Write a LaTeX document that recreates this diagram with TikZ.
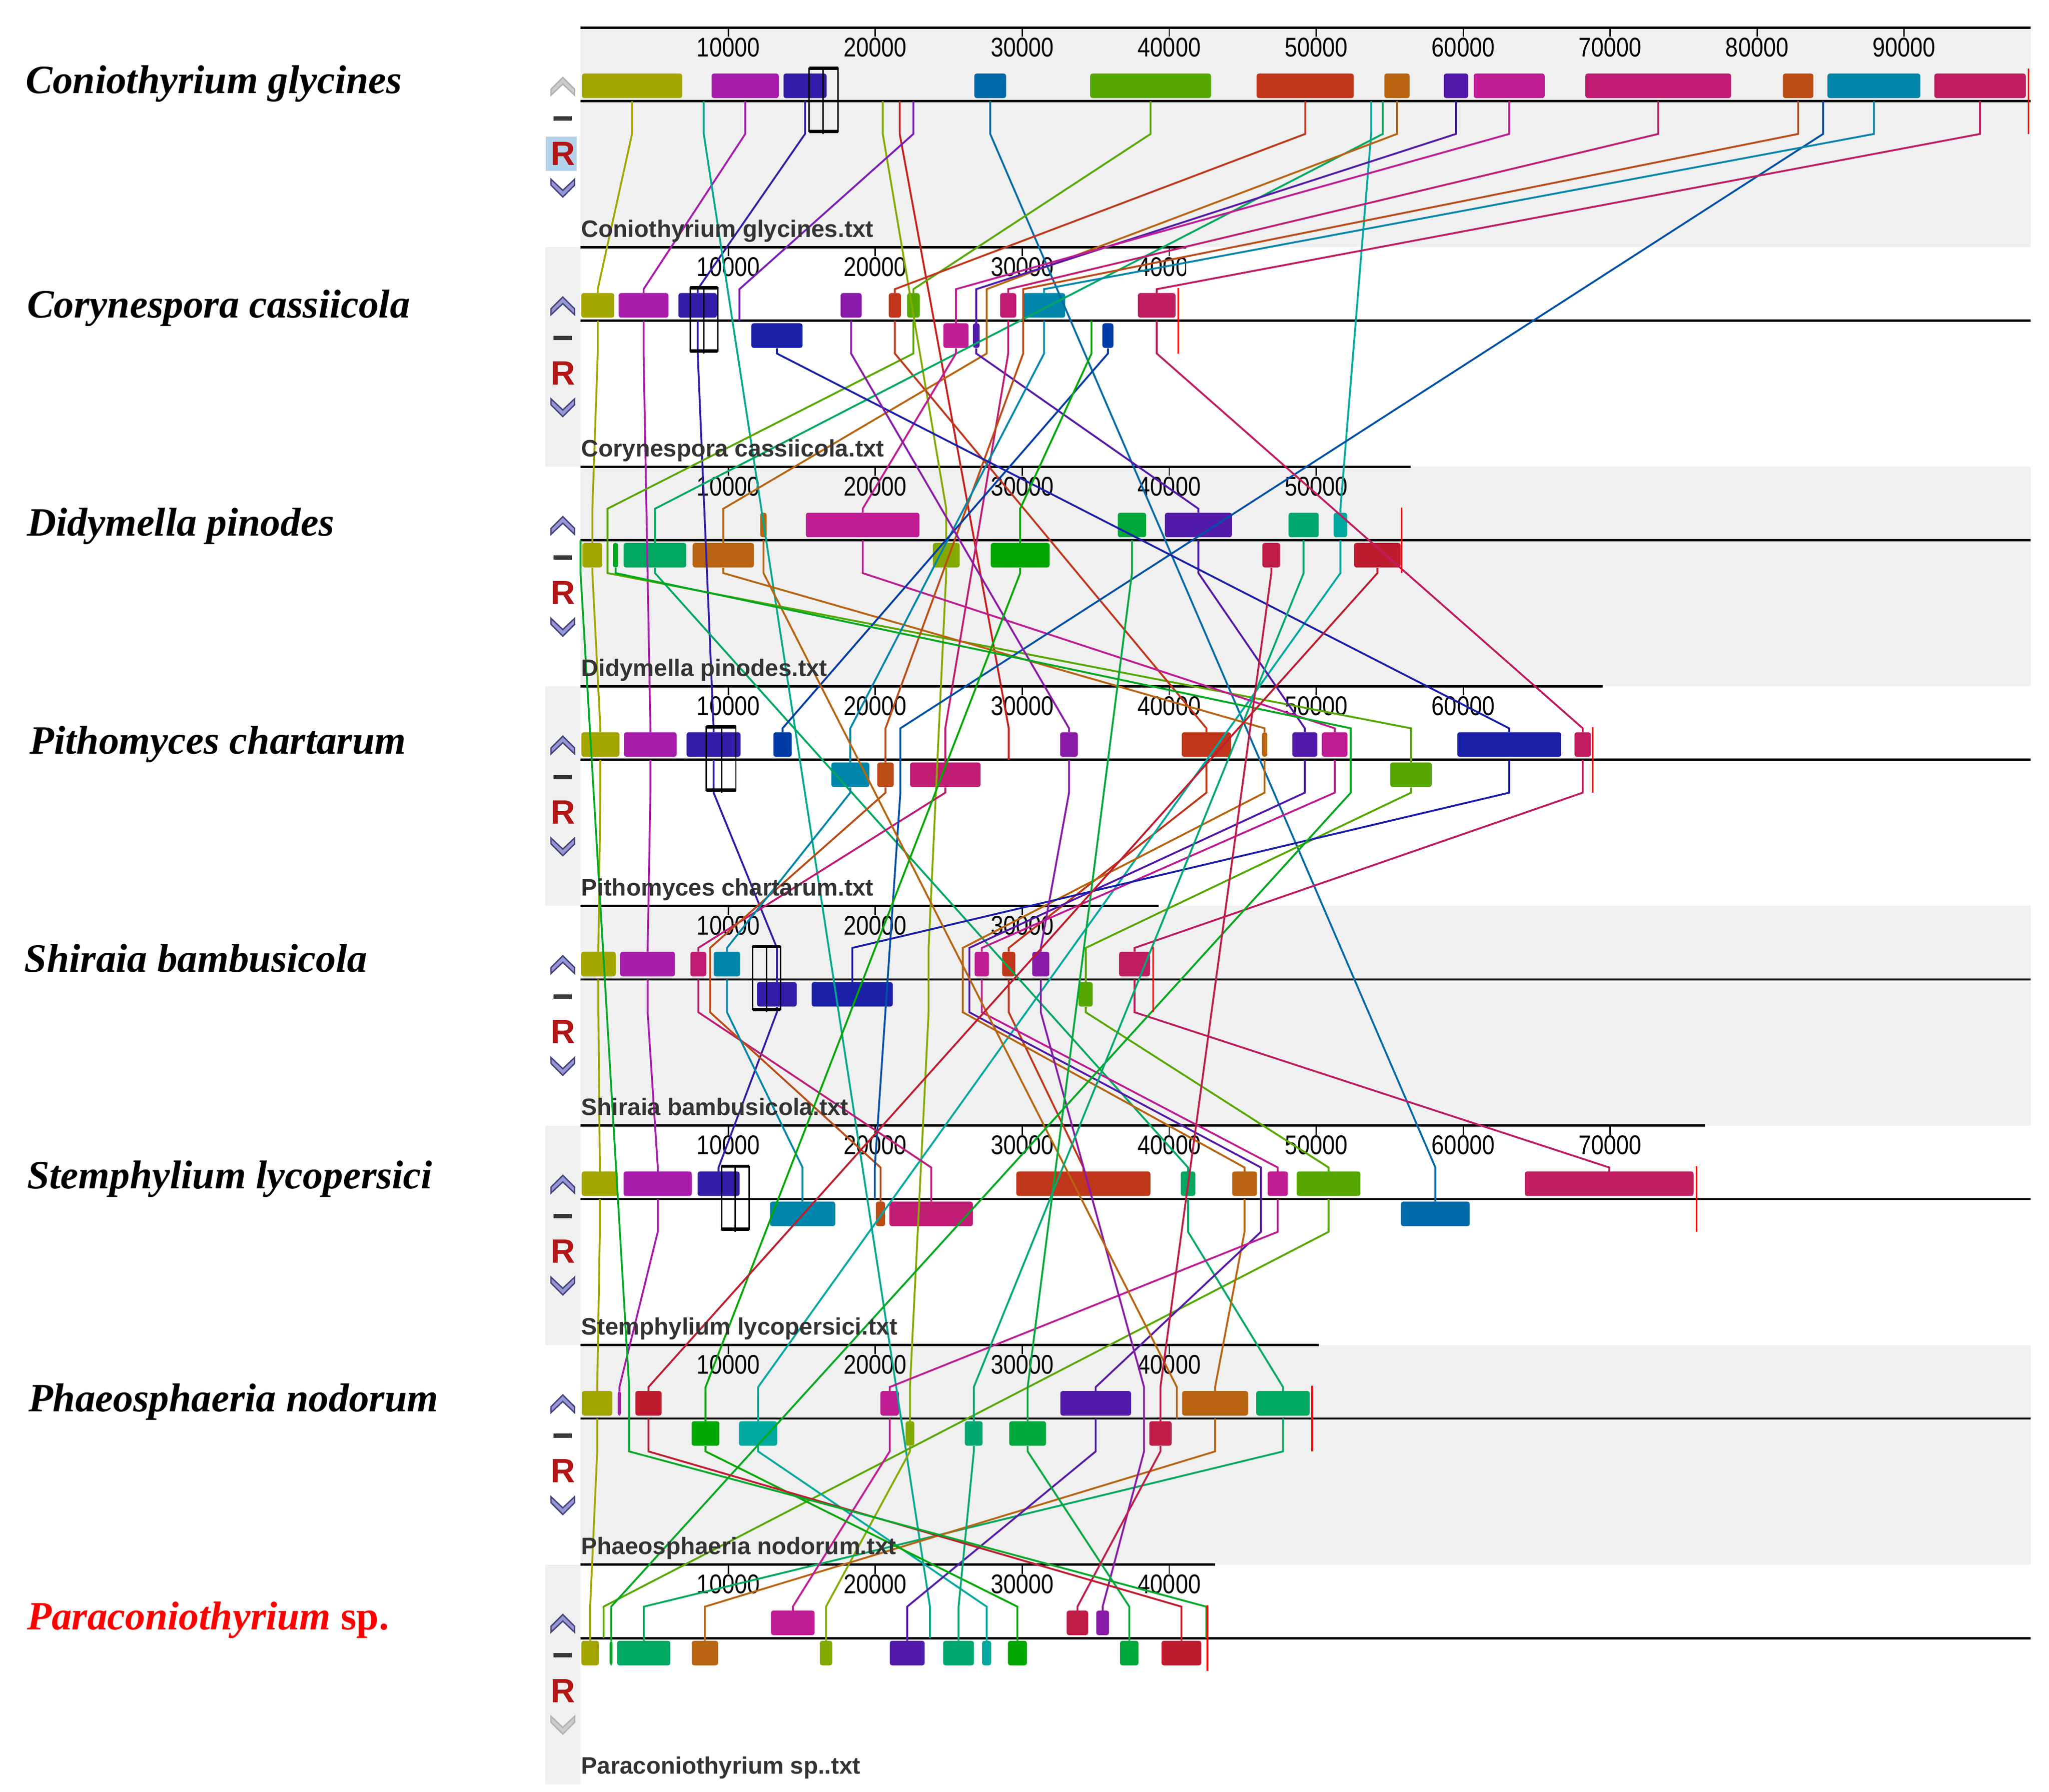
\documentclass[tikz,border=0pt]{standalone}
\usepackage{fontspec}
\setmainfont{Liberation Serif}
\newfontfamily\mauvefont{Liberation Sans}
\newfontfamily\tickfont[FakeStretch=0.84]{Liberation Sans}
\usepackage{tikz}
\usetikzlibrary{positioning}

% panel colours
\definecolor{bgGray}{RGB}{240,240,240}
\definecolor{fileGray}{RGB}{51,51,51}
\definecolor{chevFill}{RGB}{150,150,212}
\definecolor{chevEdge}{RGB}{70,70,125}
\definecolor{rRed}{RGB}{178,22,22}
\definecolor{rHigh}{RGB}{180,210,234}
% LCB colours
\definecolor{cOlive}{RGB}{164,166,0}
\definecolor{cPurple}{RGB}{168,28,172}
\definecolor{cIndigo}{RGB}{52,28,168}
\definecolor{cBlue}{RGB}{0,106,168}
\definecolor{cGreen}{RGB}{86,168,0}
\definecolor{cRed}{RGB}{192,54,26}
\definecolor{cOrange}{RGB}{184,100,16}
\definecolor{cViolet}{RGB}{82,26,170}
\definecolor{cMagenta}{RGB}{192,28,148}
\definecolor{cPink}{RGB}{192,28,116}
\definecolor{cBrown}{RGB}{188,76,22}
\definecolor{cTeal}{RGB}{0,134,170}
\definecolor{cCrimson}{RGB}{192,28,96}
\definecolor{cNavy}{RGB}{26,32,168}
\definecolor{cRoyal}{RGB}{0,60,168}
\definecolor{cLilac}{RGB}{138,26,168}
\definecolor{cSky}{RGB}{0,80,168}
\definecolor{cAqua}{RGB}{0,168,144}
\definecolor{cLime}{RGB}{132,170,0}
\definecolor{cScarlet}{RGB}{200,30,30}
\definecolor{cGrape}{RGB}{122,28,184}
\definecolor{cCyan}{RGB}{0,168,160}
\definecolor{cLeaf}{RGB}{0,168,32}
\definecolor{cJade}{RGB}{0,168,96}
\definecolor{cEmerald}{RGB}{0,168,60}
\definecolor{cKelly}{RGB}{0,168,0}
\definecolor{cMint}{RGB}{0,168,112}
\definecolor{cRose}{RGB}{192,28,72}
\definecolor{cRuby}{RGB}{192,28,48}
\definecolor{cFern}{RGB}{0,170,40}

% where a connector meets a block: u = forward, d = reverse, t = too small to draw
\def\lcbinu{35}\def\lcbind{58}\def\lcbint{56}
\def\lcboutu{56}\def\lcboutd{77}\def\lcboutt{56}

% blocks of one genome: x1/x2/top/colour
\newcommand{\blocks}[2]{%
  \pgfmathsetmacro\yo{21+167.2*(#1-1)}
  \foreach \xa/\xb/\bt/\col in {#2}
    \fill[blockbox, \col] (\xa,\yo+\bt) rectangle (\xb,\yo+\bt+18.7);
}

% one LCB through the genomes: genome/x/kind
\newcommand{\lcb}[2]{%
  \foreach \p/\x/\k [remember=\p as \pp (initially 0), remember=\x as \px (initially 0),
                     remember=\k as \pk (initially t)] in {#2}{%
    \ifnum\pp>0
      \edef\kout{\csname lcbout\pk\endcsname}
      \edef\kin{\csname lcbin\k\endcsname}
      \pgfmathsetmacro\ya{21+167.2*(\pp-1)+\kout}
      \pgfmathsetmacro\yb{21+167.2*(\pp-1)+81}
      \pgfmathsetmacro\yc{21+167.2*(\p-1)+32}
      \pgfmathsetmacro\yd{21+167.2*(\p-1)+\kin}
      \draw[lcbline, #1] (\px,\ya) -- (\px,\yb) -- (\x,\yc) -- (\x,\yd);
    \fi
  }%
}

\begin{document}
\begin{tikzpicture}[x=0.01cm, y=-0.01cm,
  lcbline/.style={line width=0.4pt},
  blockbox/.style={rounded corners=0.5pt},
  axisline/.style={line width=0.5pt, black},
  selbox/.style={line width=0.3pt, black},
  endmark/.style={line width=0.35pt, red},
  chevron/.style={fill=chevFill, draw=chevEdge, line width=0.3pt},
  chevoff/.style={fill=black!20, draw=black!30, line width=0.3pt},
  rbutton/.style={inner sep=0pt, text=rRed, font=\mauvefont\bfseries\fontsize{7.3}{8}\selectfont},
  species/.style={anchor=base west, inner sep=0pt, font=\fontsize{8.7}{10}\selectfont\bfseries\itshape},
  filename/.style={anchor=base west, inner sep=0pt, text=fileGray, font=\mauvefont\fontsize{5.15}{6}\selectfont\bfseries},
  ticklabel/.style={anchor=base, inner sep=0pt, font=\tickfont\fontsize{5.84}{7}\selectfont},
]
\useasboundingbox (0,0) rectangle (1560,1364.5);

% gray panel backgrounds
\foreach \p in {1,3,5,7}
  \fill[bgGray] (442,{21+167.2*(\p-1)}) rectangle (1546,{21+167.2*\p});
\foreach \p in {2,4,6,8}
  \fill[bgGray] (415,{21+167.2*(\p-1)}) rectangle (442,{21+167.2*\p});

% rulers, ticks and centre lines
\foreach \p/\rend/\nt in {1/1546/9, 2/903/4, 3/1074/5, 4/1220/6, 5/882/3, 6/1298/7, 7/1004/4, 8/925/4} {
  \pgfmathsetmacro\yo{21+167.2*(\p-1)}
  \draw[axisline] (442,\yo) -- (\rend,\yo);
  \draw[axisline] (442,\yo+56) -- (1546,\yo+56);
  \begin{scope}
    \clip (442,\yo-2) rectangle (\rend,\yo+30);
    \foreach \k in {1,...,\nt} {
      \draw[line width=0.3pt] ({442.6+111.9*\k},\yo) -- ++(0,7);
      \node[ticklabel] (tick\p-\k) at ({442.6+111.9*\k},\yo+22) {\k0000};
    }
  \end{scope}
}

% blocks (35 = forward strand, 58 = reverse strand)
\blocks{1}{443/519.4/35/cOlive, 541.8/592.9/35/cPurple, 596.5/629.3/35/cIndigo, 741.8/766/35/cBlue,
  830/922/35/cGreen, 956.7/1030.7/35/cRed, 1053.9/1073.2/35/cOrange, 1099.2/1117.8/35/cViolet,
  1122/1176/35/cMagenta, 1207/1318/35/cPink, 1357.4/1380.6/35/cBrown, 1391.3/1462/35/cTeal,
  1472.7/1542.3/35/cCrimson}
\blocks{2}{442.5/467.7/35/cOlive, 471/509/35/cPurple, 516.5/545.9/35/cIndigo, 640/656/35/cLilac,
  676.6/685.9/35/cRed, 690.6/700.2/35/cGreen, 761.4/773.7/35/cPink, 778.8/811/35/cTeal,
  866.3/895/35/cCrimson, 572/611/58/cNavy, 718.2/737.4/58/cMagenta, 740.7/745.8/58/cViolet,
  839.3/847.7/58/cRoyal}
\blocks{3}{578.8/583.7/35/cOrange, 613.5/700/35/cMagenta, 851/872.6/35/cEmerald, 886.9/937.9/35/cViolet,
  981/1004/35/cMint, 1015.4/1025.6/35/cCyan, 443.4/458.5/58/cOlive, 466.6/470.7/58/cLeaf,
  474.8/522.5/58/cJade, 527.4/574/58/cOrange, 710.2/730.6/58/cLime, 754.3/799.1/58/cKelly,
  961.1/974.6/58/cRose, 1030.9/1066.4/58/cRuby}
\blocks{4}{442.6/471.6/35/cOlive, 475.1/515.2/35/cPurple, 522.7/563.8/35/cIndigo, 588.8/602.8/35/cRoyal,
  807.1/820.6/35/cLilac, 899.7/937.3/35/cRed, 960.8/964.8/35/cOrange, 983.9/1002.9/35/cViolet,
  1006.4/1025.9/35/cMagenta, 1109.5/1188.6/35/cNavy, 1198.7/1211.2/35/cCrimson, 632.9/661.9/58/cTeal,
  667.9/680.4/58/cBrown, 692.9/746.5/58/cPink, 1058.5/1090/58/cGreen}
\blocks{5}{442.4/468.8/35/cOlive, 472.2/513.9/35/cPurple, 525.6/537.7/35/cPink, 543.4/563.5/35/cTeal,
  742/752.9/35/cMagenta, 763/773/35/cRed, 785.9/798.9/35/cLilac, 852/875.5/35/cCrimson,
  576.4/606.6/58/cIndigo, 618/679.7/58/cNavy, 821.2/831.9/58/cGreen}
\blocks{6}{442.9/470.4/35/cOlive, 474.8/526.7/35/cPurple, 531.1/563.1/35/cIndigo, 773.8/875.8/35/cRed,
  899/910/35/cJade, 938.1/956.9/35/cOrange, 965.1/980.5/35/cMagenta, 987.2/1035.7/35/cGreen,
  1160.9/1289.4/35/cCrimson, 586.2/635.9/58/cTeal, 666.8/673.9/58/cBrown, 677.2/740.7/58/cPink,
  1066.6/1119/58/cBlue}
\blocks{7}{443/466.3/35/cOlive, 470.3/472.8/35/cPurple, 483.7/503.7/35/cRuby, 670.3/684.4/35/cMagenta,
  807.3/861.1/35/cViolet, 900/950.2/35/cOrange, 956.4/997.1/35/cJade, 526.6/547.7/58/cKelly,
  562.6/591.7/58/cCyan, 689.5/696.1/58/cLime, 734.6/748.1/58/cMint, 768.4/796.4/58/cEmerald,
  875/892/58/cRose}
\blocks{8}{587/620.2/35/cMagenta, 812.1/828.4/35/cRose, 834.6/844.3/35/cLilac, 442.6/456/58/cOlive,
  464.2/466.4/58/cLeaf, 469.8/510.4/58/cJade, 526.7/546.7/58/cOrange, 624.2/633.6/58/cLime,
  677.4/704/58/cViolet, 718/741.5/58/cMint, 747.7/754.6/58/cCyan, 767.4/781.8/58/cKelly,
  852.7/866.8/58/cEmerald, 884.3/914.6/58/cRuby}

% connectors between the genomes
\lcb{cOlive}{1/481.2/u, 2/455.1/u, 3/451/d, 4/457.1/u, 5/455.6/u, 6/456.7/u, 7/454.7/u, 8/449.3/d}
\lcb{cPurple}{1/567.4/u, 2/490/u, 4/495.2/u, 5/493.1/u, 6/500.8/u, 7/471.6/u}
\lcb{cIndigo}{1/612.9/u, 2/531.2/u, 4/543.3/u, 5/591.5/d, 6/547.1/u}
\lcb{cAqua}{1/535.8/t, 8/708/t}
\lcb{cLime}{1/672.1/t, 3/720.4/d, 5/707/t, 7/692.8/d, 8/628.9/d}
\lcb{cScarlet}{1/685/t, 4/768/t}
\lcb{cGrape}{1/695.4/t, 2/563/t}
\lcb{cBlue}{1/753.9/u, 6/1092.8/d}
\lcb{cGreen}{1/876/u, 2/695.4/u, 3/462.5/t, 4/1074.3/d, 5/826.6/d, 6/1011.5/u, 8/459.5/t}
\lcb{cRed}{1/993.7/u, 2/681.3/u, 4/918.5/u, 5/768/u, 6/824.8/u}
\lcb{cCyan}{1/1043.9/t, 3/1020.5/u, 7/577.2/d, 8/751.2/d}
\lcb{cJade}{1/1052.8/t, 3/498.7/d, 6/904.5/u, 7/976.8/u, 8/490.1/d}
\lcb{cOrange}{1/1063.6/u, 2/751.2/t, 3/550.7/d, 4/962.8/u, 5/733/t, 6/947.5/u, 7/925.1/u, 8/536.7/d}
\lcb{cViolet}{1/1108.5/u, 2/743.3/d, 3/912.4/u, 4/993.4/u, 5/738/t, 6/960/t, 7/834.2/u, 8/690.7/d}
\lcb{cMagenta}{1/1149/u, 2/727.8/d, 3/656.8/u, 4/1016.2/u, 5/747.5/u, 6/972.8/u, 7/677.4/u, 8/603.6/u}
\lcb{cPink}{1/1262.5/u, 2/767.6/u, 4/719.7/d, 5/531.7/u, 6/709/d}
\lcb{cBrown}{1/1369/u, 2/779/t, 4/674.2/d, 5/540.6/t, 6/670.4/d}
\lcb{cSky}{1/1388/t, 4/685.5/t, 6/666/t}
\lcb{cTeal}{1/1426.7/u, 2/794.9/u, 4/647.4/d, 5/553.5/u, 6/611/d}
\lcb{cCrimson}{1/1507.5/u, 2/880.7/u, 4/1205/u, 5/863.8/u, 6/1225.2/u}
\lcb{cNavy}{2/591.5/d, 4/1149/u, 5/648.9/d}
\lcb{cRoyal}{2/843.5/d, 4/595.8/u}
\lcb{cLilac}{2/648/u, 4/813.9/u, 5/792.4/u, 7/871/t, 8/839.5/u}
\lcb{cOrange}{3/581.3/u, 7/896/t}
\lcb{cLeaf}{3/468.7/d, 4/1028.4/t, 8/465.3/d}
\lcb{cEmerald}{3/861.8/u, 7/782.4/d, 8/859.8/d}
\lcb{cKelly}{2/831/t, 3/776.7/d, 7/537.2/d, 8/774.6/d}
\lcb{cMint}{3/992.5/u, 7/741.4/d, 8/729.8/d}
\lcb{cRose}{3/967.9/d, 7/883.5/d, 8/820.3/u}
\lcb{cRuby}{3/1048.7/d, 7/493.7/u, 8/899.5/d}
\lcb{cFern}{3/442/t, 7/479/t, 8/918.4/t}

% cursor boxes
\foreach \p/\xa/\xb/\xm in {1/616/638/626.5, 2/525.5/546.5/536, 4/537.7/560.3/549.3, 5/573/594.2/583.6, 6/549.3/570.3/559.8} {
  \pgfmathsetmacro\yo{21+167.2*(\p-1)}
  \draw[selbox] (\xa,\yo+31) rectangle (\xb,\yo+79);
  \draw[line width=0.7pt] (\xa,\yo+31) -- (\xb,\yo+31) (\xa,\yo+79) -- (\xb,\yo+79);
  \draw[selbox] (\xm,\yo+31) -- (\xm,\yo+81);
}

% genome ends
\foreach \p/\xe in {1/1544.4, 2/897, 3/1067.2, 4/1212.7, 5/877.8, 6/1291.6, 7/999, 8/919.3}
  \draw[endmark] (\xe,{21+167.2*(\p-1)+31}) -- (\xe,{21+167.2*(\p-1)+81});

% side buttons
\fill[rHigh] (415.5,104) rectangle (439,130);
\foreach \p in {1,...,8} {
  \pgfmathsetmacro\yo{21+167.2*(\p-1)}
  \pgfmathsetmacro\yu{\yo+44}
  \pgfmathsetmacro\yv{\yo+123}
  \ifnum\p=1 \def\upst{chevoff}\else\def\upst{chevron}\fi
  \ifnum\p=8 \def\dnst{chevoff}\else\def\dnst{chevron}\fi
  \path[\upst] (419.5,\yu+3) -- (428.5,\yu-6) -- (437.5,\yu+3) -- (437.5,\yu+7.5) -- (428.5,\yu-1) -- (419.5,\yu+7.5) -- cycle;
  \path[\dnst] (419.5,\yv-3) -- (428.5,\yv+6) -- (437.5,\yv-3) -- (437.5,\yv-7.5) -- (428.5,\yv+1) -- (419.5,\yv-7.5) -- cycle;
  \fill[black!78] (421.5,\yo+67.5) rectangle (435.5,\yo+70.8);
  \node[rbutton] (rev\p) at (428.5,\yo+96) {R};
}

% file names under each panel
\foreach \p/\file in {1/Coniothyrium glycines, 2/Corynespora cassiicola, 3/Didymella pinodes,
  4/Pithomyces chartarum, 5/Shiraia bambusicola, 6/Stemphylium lycopersici,
  7/Phaeosphaeria nodorum, 8/Paraconiothyrium sp.}
  \node[filename] (file\p) at (442,{21+167.2*(\p-1)+159.5}) {\file.txt};

% species names
\foreach \p/\xl/\yl/\name in {1/19/71/Coniothyrium glycines, 2/20/242/Corynespora cassiicola,
  3/20/408/Didymella pinodes, 4/22/574/Pithomyces chartarum, 5/18/740/Shiraia bambusicola,
  6/20/905/Stemphylium lycopersici, 7/21/1075/Phaeosphaeria nodorum}
  \node[species] (species\p) at (\xl,\yl) {\name};
\node[species, text=red] (species8) at (20,1241) {Paraconiothyrium \upshape sp.};
\end{tikzpicture}
\end{document}
